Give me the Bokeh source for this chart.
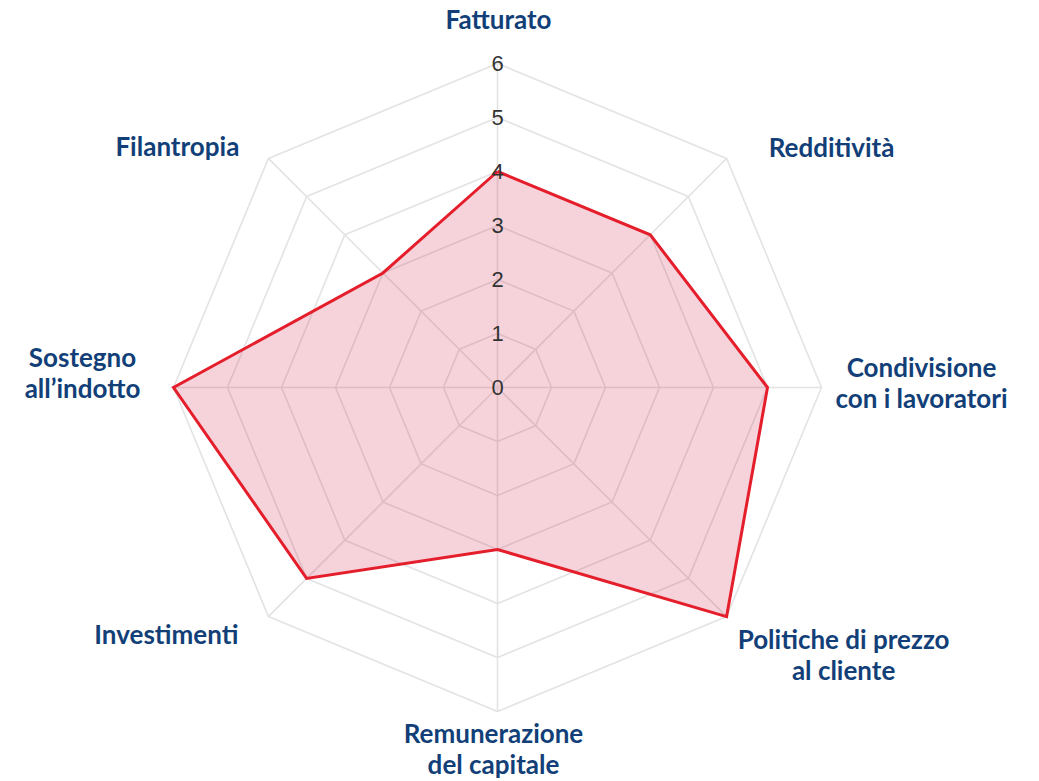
import numpy as np
from bokeh.plotting import figure
from bokeh.models import ColumnDataSource
from bokeh.core.properties import value
from bokeh.embed import file_html
from bokeh.resources import INLINE

# ---- data ----
categories = ["Fatturato", "Redditività", "Condivisione\ncon i lavoratori",
              "Politiche di prezzo\nal cliente", "Remunerazione\ndel capitale",
              "Investimenti", "Sostegno\nall\u2019indotto", "Filantropia"]
values = [4, 4, 5, 6, 3, 5, 6, 3]
tick_values = [0, 1, 2, 3, 4, 5, 6]
tick_labels = ["0", "1", "2", "3", "4", "5", "6"]
r_max = 6

# ---- layout ----
W, H = 1039, 781
cx_px, cy_px = 497, 387          # centre in figure pixels
unit = 54.0                      # pixels per value unit
x_range = (-cx_px / unit, (W - cx_px) / unit)
y_range = (-(H - cy_px) / unit, cy_px / unit)

p = figure(width=W, height=H, x_range=x_range, y_range=y_range,
           output_backend="svg", toolbar_location=None, min_border=0)
p.axis.visible = False
p.grid.visible = False
p.outline_line_color = None
p.background_fill_color = "white"

n = len(categories)
ang = np.pi / 2 - np.arange(n) * 2 * np.pi / n
ca, sa = np.cos(ang), np.sin(ang)

grid_col = "#e3e3e3"
# rings
ring_xs = [list(np.append(ca, ca[0]) * r) for r in tick_values[1:]]
ring_ys = [list(np.append(sa, sa[0]) * r) for r in tick_values[1:]]
p.multi_line(ring_xs, ring_ys, line_color=grid_col, line_width=1.6)
# spokes
p.multi_line([[0, c * r_max] for c in ca], [[0, s * r_max] for s in sa],
             line_color=grid_col, line_width=1.6)

# data polygon
v = np.array(values, dtype=float)
px = list(np.append(ca * v, ca[0] * v[0]))
py = list(np.append(sa * v, sa[0] * v[0]))
p.patch(px, py, fill_color="#d2204c", fill_alpha=0.2, line_color=None)
p.line(px, py, line_color="#e41e2b", line_width=3, line_join="miter")

# tick labels
p.text(x=[0] * len(tick_values), y=tick_values, text=tick_labels,
       text_font=value("Liberation Sans"), text_font_size="22px",
       text_color="#333333", text_align="center", text_baseline="middle")

# category labels
lab_dx = [1, 105, 100, 117, -4, -102, -91, -91]
lab_dy = [-45, -11, -5, 38, 37, 17, -15, -12]
src = ColumnDataSource(dict(x=ca * r_max, y=sa * r_max, t=categories,
                            xo=lab_dx, yo=lab_dy))
p.text(x="x", y="y", text="t", x_offset="xo", y_offset="yo", source=src,
       text_font=value("Lato"), text_font_style="bold", text_font_size="26px",
       text_color="#123f78", text_align="center", text_baseline="middle",
       text_line_height=0.98)

open("out.html", "w").write(file_html(p, INLINE))
